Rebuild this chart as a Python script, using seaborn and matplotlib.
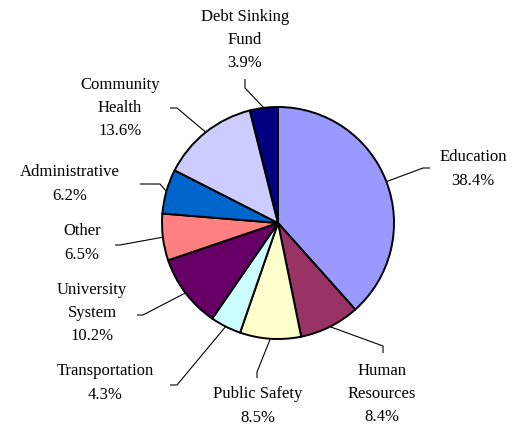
import numpy as np
import matplotlib
matplotlib.use("Agg")
import matplotlib.pyplot as plt
import seaborn as sns

# %% data (clockwise from 12 o'clock)
categories = ["Education", "Human Resources", "Public Safety", "Transportation",
              "University System", "Other", "Administrative",
              "Community Health", "Debt Sinking Fund"]
label_text = ["Education", "Human\nResources", "Public Safety", "Transportation",
              "University\nSystem", "Other", "Administrative",
              "Community\nHealth", "Debt Sinking\nFund"]
shares = [38.4, 8.4, 8.5, 4.3, 10.2, 6.5, 6.2, 13.6, 3.9]
colors = ["#9999FF", "#993366", "#FFFFCC", "#CCFFFF", "#660066",
          "#FF8080", "#0066CC", "#CCCCFF", "#000080"]

# %% layout in pixel coords (y down): label centre, leader elbow, leader end
W, H = 517, 426
cx, cy, R = 278, 223, 116
label_pos = [(473, 169), (382, 394), (258, 406), (105, 383), (92, 313),
             (82, 243), (70, 184), (120, 108), (245, 40)]
elbows = [(423, 168), (383, 346), (257, 372), (177, 385), (143, 315),
          (120, 245), (160, 184), (177, 108), (245, 88)]
ends = [(430, 168), (383, 353), (257, 378), (170, 385), (137, 315),
        (115, 245), (140, 184), (170, 108), (245, 79)]

sns.set_theme(style="white")
plt.rcParams["font.family"] = ["Liberation Serif", "DejaVu Serif"]

fig = plt.figure(figsize=(W / 100, H / 100), dpi=100)
ax = fig.add_axes([0, 0, 1, 1])

wedges, _ = ax.pie(shares, colors=colors, startangle=90, counterclock=False,
                   center=(cx, H - cy), radius=R,
                   wedgeprops=dict(edgecolor="black", linewidth=1.4))
ax.set_xlim(0, W)
ax.set_ylim(0, H)
ax.set_aspect("equal")
ax.axis("off")

# %% labels with leader lines
for w, txt, v, lp, el, en in zip(wedges, label_text, shares, label_pos, elbows, ends):
    ang = np.deg2rad((w.theta1 + w.theta2) / 2)
    sx, sy = cx + R * np.cos(ang), (H - cy) + R * np.sin(ang)
    ax.plot([sx, el[0], en[0]], [sy, H - el[1], H - en[1]],
            color="black", lw=0.8, solid_capstyle="butt")
    ax.text(lp[0], H - lp[1], f"{txt}\n{v:.1f}%", ha="center", va="center",
            multialignment="center", fontsize=12, linespacing=1.62,
            color="black")

fig.savefig("out.png", dpi=100)
